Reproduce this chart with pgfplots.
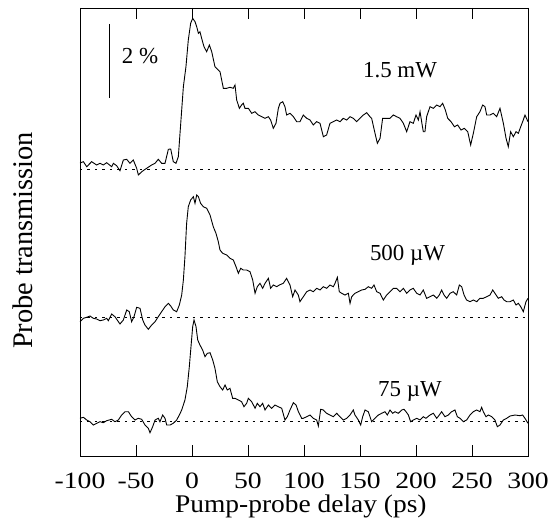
\documentclass[border=0pt]{standalone}
\usepackage{fontspec}
\setmainfont{Liberation Serif}
\newfontfamily\tickfont{Liberation Serif}[FakeStretch=1.18]
\newfontfamily\xlabfont{Liberation Serif}[FakeStretch=1.08]
\usepackage{pgfplots}
\pgfplotsset{compat=1.18}

% traces: x in ps, y in picture units (downwards)
\pgfplotstableread{
x y
-100 163
-97.0 161.7
-94.0 166.7
-89.6 161.7
-85.1 165
-82.1 163.3
-79.2 165
-76.2 162.7
-71.7 166.7
-70.2 163.3
-67.3 165.7
-64.3 170.7
-61.3 160
-58.3 159.3
-55.4 163.3
-52.4 160
-49.4 168.3
-47.9 175
-44.9 171.7
-40.5 168.3
-36.0 165
-33.0 163.3
-30.1 159.3
-27.1 163.3
-24.1 163.3
-21.1 149.3
-19.0 149
-16.7 161.7
-14.3 163.3
-12.2 156.7
-10.7 133.3
-9.2 110
-7.7 86.7
-5.4 66.7
-3.3 40
-1.2 23.3
0.6 18.3
2.7 21.7
4.2 26.7
5.7 33.3
7.1 31.7
8.6 38.3
10.7 46.7
13.1 51.7
15.5 45
17.6 51.7
20.5 66.7
23.5 70
25.0 71.7
28.0 88.3
31.0 88.3
33.9 87.3
36.9 88.3
38.4 85
39.9 100
42.3 108.3
44.3 105
45.8 103.3
47.3 108.3
50.3 108.3
53.3 113.3
56.3 111.7
59.2 115
62.2 116.7
65.2 118.3
68.2 116.7
70.2 120
72.6 128.3
75.0 123.3
77.1 108.3
78.6 103.3
81.0 101.7
83.0 106.7
84.5 115
87.5 113.3
90.5 116.7
93.5 121.7
96.4 121.7
99.4 115
102.4 118.3
105.4 120
108.3 125
111.3 121.7
114.3 123.3
117.3 136.7
120.2 135
123.2 123.3
126.2 121.7
129.2 120
132.1 121.7
135.1 118.3
138.1 120
141.1 116.7
144.0 118.3
147.0 121.7
150.0 118.3
153.0 115
156.0 112.7
158.9 116.7
160.4 118.3
163.4 133.3
165.5 143.3
167.9 138.3
170.2 118.3
173.8 118.3
176.8 118.3
179.8 115
182.7 116.7
185.7 118.3
188.7 123.3
191.7 131.7
194.6 121.7
197.6 123.3
200.0 115
202.1 120
203.6 111.7
206.5 131.7
208.0 131.7
209.5 116.7
212.5 106.7
215.5 108.3
218.5 105
221.4 106.7
223.8 103.3
226.2 110
228.3 118.3
231.3 121.7
234.3 126.7
237.2 125
240.2 130
243.2 128.3
246.2 131.7
248.8 145
251.2 133.3
254.2 116.7
257.1 111.7
259.5 105
261.6 106.7
263.1 115
266.1 115
269.0 113.3
272.0 116.7
275.0 108.3
278.0 123.3
280.4 138.3
282.4 146.7
284.5 131.7
286.9 136.7
289.3 131.7
291.4 133.3
293.5 126.7
295.8 120
297.3 115
300.0 121.7
}\traceA

\pgfplotstableread{
x y
-100 321.7
-97.0 318.3
-94.0 317.3
-91.1 316
-88.1 318.3
-85.1 319
-82.1 320.7
-79.2 320
-76.2 318.3
-74.7 320.7
-71.7 314
-68.8 316.7
-64.3 324
-61.3 320
-58.3 310
-56.0 311.7
-53.9 321.7
-51.8 316.7
-49.4 307.3
-46.4 308.3
-44.0 320
-42.0 325
-39.0 329.3
-36.0 325
-33.0 321.7
-30.1 316.7
-27.1 311.7
-24.1 306.7
-21.1 303.3
-19.0 306
-16.7 310
-13.7 311.7
-11.3 305
-9.2 295
-7.7 280
-6.3 256.7
-4.8 223.3
-3.3 206.7
-1.2 200
1.2 196.7
2.7 203.3
4.2 195
5.7 196.7
7.7 203.3
10.1 206.7
13.1 208.3
16.1 215
19.0 226.7
21.4 233.3
23.5 241.7
25.0 250
27.4 253.3
31.0 255
33.9 258.3
36.9 260
39.3 266.7
41.4 273.3
43.5 268.3
45.8 270
48.8 270
51.8 271.7
54.2 280
56.3 293.3
58.3 286.7
60.7 283.3
63.1 288.3
65.2 283.3
68.2 278.3
70.2 288.3
72.6 285
75.6 286.7
78.0 285
81.5 283.3
84.5 278.3
87.5 285
89.9 296.7
92.0 290
94.9 295
96.4 301.7
99.4 296.7
102.4 291.7
105.4 290
108.3 291.7
111.3 288.3
114.3 290
117.3 286.7
120.2 288.3
123.2 285
126.2 286.7
127.7 283.3
129.8 277.3
131.5 291.7
133.6 293.3
136.6 295
139.6 293.3
141.1 303.3
142.6 296.7
145.5 293.3
148.5 291.7
151.5 290
154.5 289.3
157.4 286.7
160.4 288.3
162.5 285
164.9 291.7
167.9 293.3
170.8 300
173.8 295
176.8 291.7
179.8 288.3
182.7 288.3
185.7 291.7
188.7 288.3
191.7 293.3
194.6 290
197.6 288.3
200.6 293.3
203.6 295
206.5 290
209.5 298.3
212.5 296.7
215.5 295
218.5 298.3
220.8 295
222.9 290
225.0 295
227.4 298.3
230.4 293.3
233.3 291.7
236.3 295
238.7 285
240.8 286.7
242.9 295
245.2 300
248.2 301.7
251.2 300
254.2 301.7
257.1 298.3
260.1 298.3
263.1 296.7
266.1 295
268.5 290
270.5 293.3
273.5 298.3
276.5 296.7
278.6 300
281.0 301.7
284.0 301.7
286.9 300
289.3 305
291.4 303.3
293.5 306.7
295.8 311.7
298.2 301.7
300.0 298.3
}\traceB

\pgfplotstableread{
x y
-100 418.3
-97.0 417.3
-94.0 420
-91.1 421.7
-88.1 425
-85.1 423.3
-82.1 421.7
-79.2 422.7
-76.2 420.7
-71.7 419.3
-68.8 421.7
-65.8 420
-62.8 415
-59.8 411.7
-56.8 411.7
-53.9 416.7
-50.9 420
-47.9 418.3
-44.9 419.3
-42.0 425
-39.0 428.3
-37.5 432.7
-35.1 426.7
-33.0 420
-30.1 418.3
-28.6 421.7
-26.2 415
-24.1 418.3
-22.6 425
-19.6 425
-16.7 423.3
-13.7 420
-11.3 415
-9.2 410
-6.3 400
-4.2 386.7
-2.4 366.7
-0.9 346.7
0.6 326.7
1.8 320
3.6 326.7
5.1 340
7.1 345
9.5 350
11.6 356.7
13.7 353.3
16.1 352.7
18.5 360
20.5 368.3
22.6 381.7
25.0 386.7
27.4 390
29.5 385
31.5 390
33.9 388.3
36.3 398.3
38.4 398.3
41.4 400
44.3 401.7
46.4 406.7
48.8 403.3
50.3 398.3
53.3 401.7
56.3 408.3
58.3 403.3
60.7 406.7
63.1 403.3
65.2 410
68.2 405
71.1 408.3
74.1 405
77.1 406.7
80.1 408.3
83.0 420
85.1 416.7
87.5 410
90.5 402.7
92.9 405
95.0 411.7
97.9 418.3
99.4 418.3
102.4 416.7
105.4 415
108.3 418.3
111.3 420
112.8 426
114.9 409.3
117.3 410
120.2 413.3
123.2 415
126.2 416.7
129.2 413.3
132.1 416.7
135.1 420
138.1 418.3
141.1 415
144.0 410
145.5 415
148.5 420
150.6 425
152.4 416.7
154.5 410
157.4 411.7
160.4 421.7
163.4 418.3
166.4 415
169.3 413.3
172.3 411.7
174.4 415
176.8 410
179.2 413.3
181.3 411.7
184.2 413.3
187.2 410
189.3 409.3
191.1 411.7
193.2 415
195.2 421.7
197.6 420
200.6 418.3
203.6 420
206.5 416.7
208.9 418.3
212.5 415
215.5 413.3
218.5 418.3
220.8 415
222.9 411.7
225.9 416.7
228.9 415
231.8 411.7
234.8 410
236.9 416.7
239.3 418.3
242.3 421.7
245.2 420
248.2 415
251.2 411.7
254.2 410
257.1 411.7
258.6 407.3
260.1 411.7
262.5 416.7
264.6 415
267.6 416.7
270.5 420
272.6 426.7
275.0 425
278.0 420
281.0 418.3
284.0 416
288.4 415
292.9 415.7
295.2 415
297.3 418.3
300.0 423.3
}\traceC

\begin{document}
\begin{tikzpicture}
\useasboundingbox (-80bp,-66bp) rectangle (473bp,456bp);
\begin{axis}[
  scale only axis,
  width=448bp, height=448bp,
  xmin=-100, xmax=300,
  ymin=8, ymax=456,
  y dir=reverse,
  axis line style={line width=0.8bp},
  xtick={-100,-50,0,50,100,150,200,250,300},
  xticklabels={-100,-50,0,50,100,150,200,250,300},
  ytick=\empty,
  tick align=inside,
  xtick pos=both,
  major tick length=11bp,
  tick style={line width=0.8bp, black},
  xticklabel style={font=\tickfont\fontsize{23.5}{27}\selectfont, anchor=base, yshift=-32bp},
  xlabel={Pump-probe delay (ps)},
  ylabel={Probe transmission},
  xlabel style={font=\xlabfont\fontsize{25.5}{29}\selectfont, at={(axis description cs:0.493,-0.127)}, anchor=base},
  ylabel style={font=\fontsize{28.5}{32}\selectfont, at={(axis description cs:-0.105,0.481)}, anchor=base},
  clip=false,
]
\addplot[black, line width=0.9bp] table {\traceA};
\addplot[black, line width=0.9bp] table {\traceB};
\addplot[black, line width=0.9bp] table {\traceC};

% zero lines of the three traces
\addplot[black, line width=0.8bp, dash pattern=on 2.5bp off 5bp] coordinates {(-100,169.5) (300,169.5)};
\addplot[black, line width=0.8bp, dash pattern=on 2.5bp off 5bp] coordinates {(-100,317.7) (300,317.7)};
\addplot[black, line width=0.8bp, dash pattern=on 2.5bp off 5bp] coordinates {(-100,421.7) (300,421.7)};

% 2 % scale bar
\draw[black, line width=0.9bp] (axis cs:-74.1,24) -- (axis cs:-74.1,98);
\node[anchor=base, font=\fontsize{23}{27}\selectfont] at (axis cs:-46.4,63) {2 \%};

\node[anchor=base, font=\fontsize{23}{27}\selectfont] at (axis cs:185.7,77) {1.5 mW};
\node[anchor=base, font=\fontsize{23}{27}\selectfont] at (axis cs:192.4,260) {500 µW};
\node[anchor=base, font=\fontsize{23}{27}\selectfont] at (axis cs:194.6,396) {75 µW};
\end{axis}
\end{tikzpicture}
\end{document}
